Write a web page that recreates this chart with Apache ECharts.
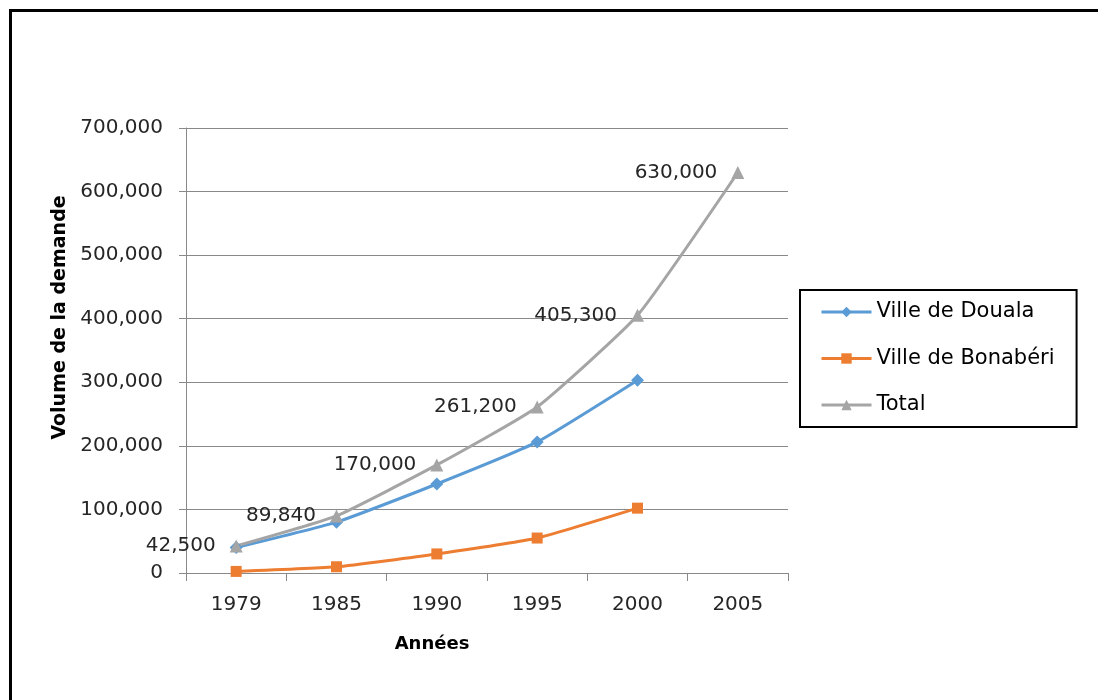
<!DOCTYPE html>
<html>
<head>
<meta charset="utf-8">
<script src="https://cdn.jsdelivr.net/npm/echarts@6/dist/echarts.min.js"></script>
<style>
html,body{margin:0;padding:0;background:#fff;overflow:hidden;}
#chart{width:1098px;height:700px;}
</style>
</head>
<body>
<div id="chart"></div>
<script>
const years = ['1979', '1985', '1990', '1995', '2000', '2005'];
const douala = [40000, 80000, 140000, 206200, 303300, null];
const bonaberi = [2500, 9840, 30000, 55000, 102000, null];
const total = [42500, 89840, 170000, 261200, 405300, 630000];
const yTicks = { min: 0, max: 700000, interval: 100000 };
const seriesNames = ['Ville de Douala', 'Ville de Bonabéri', 'Total'];
const xTitle = 'Années';
const yTitle = 'Volume de la demande';

const FONT = 'DejaVu Sans';
const fmt = v => Number(v).toLocaleString('en-US');
const gridGray = '#898989';
const txt = '#262626';

const chart = echarts.init(document.getElementById('chart'), null, { renderer: 'canvas' });
chart.setOption({
  backgroundColor: '#ffffff',
  animation: false,
  grid: { left: 186, right: 310, top: 128, bottom: 127, containLabel: false },
  xAxis: {
    type: 'category',
    data: years,
    boundaryGap: true,
    name: xTitle,
    nameLocation: 'middle',
    nameGap: 62,
    nameTextStyle: { fontFamily: FONT, fontWeight: 'bold', fontSize: 18, color: '#000', padding: [0, 110, 0, 0] },
    axisLine: { show: true, lineStyle: { color: gridGray, width: 1 } },
    axisTick: { show: true, alignWithLabel: false, length: 8, lineStyle: { color: gridGray } },
    axisLabel: { fontFamily: FONT, fontSize: 20, color: txt, margin: 22 },
    splitLine: { show: false }
  },
  yAxis: {
    type: 'value',
    min: yTicks.min,
    max: yTicks.max,
    interval: yTicks.interval,
    name: yTitle,
    nameLocation: 'middle',
    nameGap: 115,
    nameRotate: 90,
    nameTextStyle: { fontFamily: FONT, fontWeight: 'bold', fontSize: 19, color: '#000', padding: [0, 0, 0, 66] },
    axisLine: { show: true, lineStyle: { color: gridGray, width: 1 } },
    axisTick: { show: true, length: 7, lineStyle: { color: gridGray } },
    axisLabel: { fontFamily: FONT, fontSize: 20, color: txt, margin: 23, formatter: fmt },
    splitLine: { show: true, lineStyle: { color: gridGray, width: 1 } }
  },
  legend: {
    orient: 'vertical',
    left: 800,
    top: 290,
    padding: [10, 22, 10, 20],
    itemGap: 22.5,
    itemWidth: 50,
    itemHeight: 13,
    borderColor: '#000',
    borderWidth: 2,
    lineStyle: { width: 3 },
    textStyle: { fontFamily: FONT, fontSize: 21, color: '#000', lineHeight: 24 },
    data: seriesNames
  },
  series: [
    {
      name: seriesNames[0], type: 'line', data: douala, smooth: 0.15,
      symbol: 'diamond', symbolSize: 13,
      itemStyle: { color: '#5B9BD5' },
      lineStyle: { color: '#5B9BD5', width: 3 }
    },
    {
      name: seriesNames[1], type: 'line', data: bonaberi, smooth: 0.15,
      symbol: 'rect', symbolSize: 11,
      itemStyle: { color: '#ED7D31' },
      lineStyle: { color: '#ED7D31', width: 3 }
    },
    {
      name: seriesNames[2], type: 'line', data: total, smooth: 0.15,
      symbol: 'triangle', symbolSize: 13,
      itemStyle: { color: '#A5A5A5' },
      lineStyle: { color: '#A5A5A5', width: 3 },
      label: { show: true, position: 'left', distance: 14, fontFamily: FONT, fontSize: 20, color: txt, formatter: p => fmt(p.value) }
    }
  ],
  graphic: [
    { type: 'rect', id: 'frameTop', shape: { x: 9, y: 9, width: 1089, height: 3 }, style: { fill: '#000' } },
    { type: 'rect', id: 'frameLeft', shape: { x: 9, y: 9, width: 3, height: 691 }, style: { fill: '#000' } }
  ]
});
</script>
</body>
</html>
